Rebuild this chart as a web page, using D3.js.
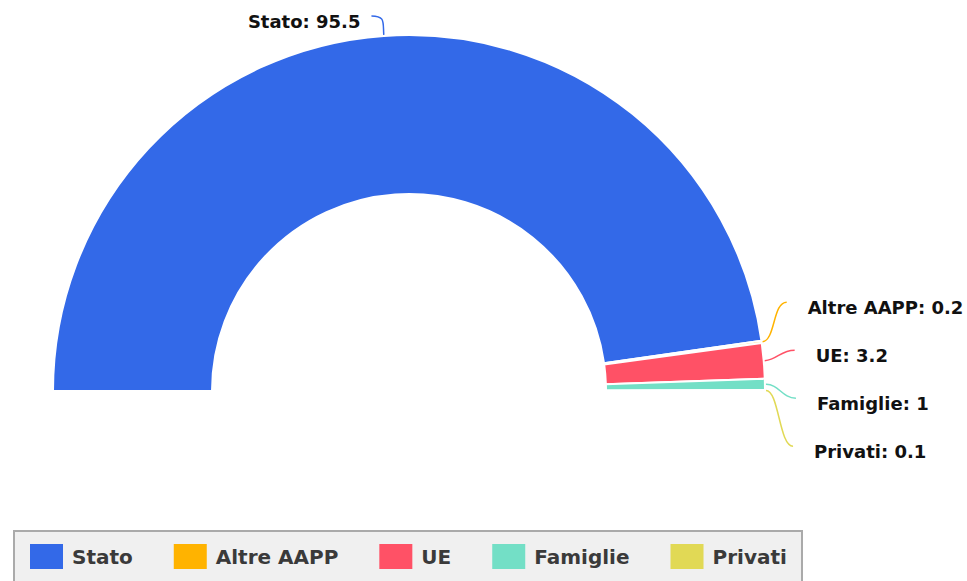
<!DOCTYPE html>
<html>
<head>
<meta charset="utf-8">
<script src="https://cdn.jsdelivr.net/npm/d3@7"></script>
<style>
  body { margin: 0; background: #fff; }
  svg { display: block; font-family: "DejaVu Sans", sans-serif; }
</style>
</head>
<body>
<div id="chart"></div>
<script>
// dati
const categories = ["Stato", "Altre AAPP", "UE", "Famiglie", "Privati"];
const values = [95.5, 0.2, 3.2, 1, 0.1];
const colors = ["#3369e8", "#ffb300", "#ff5166", "#73dfc6", "#e1d955"];

const width = 967, height = 581;
const cx = 409, cy = 391;
const outerR = 356, innerR = 197;

const svg = d3.select("#chart").append("svg")
    .attr("width", width)
    .attr("height", height);

const data = categories.map((c, i) => ({ name: c, value: values[i], color: colors[i] }));

const pie = d3.pie()
    .sort(null)
    .value(d => d.value)
    .startAngle(-Math.PI / 2)
    .endAngle(Math.PI / 2);

const arc = d3.arc().innerRadius(innerR).outerRadius(outerR);
const arcs = pie(data);

const g = svg.append("g").attr("transform", `translate(${cx},${cy})`);

g.selectAll("path.slice")
    .data(arcs)
    .enter()
    .append("path")
    .attr("class", "slice")
    .attr("d", arc)
    .attr("fill", d => d.data.color)
    .attr("stroke", "#fff")
    .attr("stroke-width", 2)
    .attr("stroke-linejoin", "round");

// etichette con linee di richiamo
const polar = (r, a) => [r * Math.sin(a), -r * Math.cos(a)];
const labelR = 376, curveR = 388;

const labels = arcs.map(d => {
    const mid = (d.startAngle + d.endAngle) / 2;
    const side = Math.sin(mid) >= 0 ? 1 : -1;
    const elbow = polar(labelR, mid);
    return { d, mid, side, anchor: polar(outerR + 1, mid), y: elbow[1] };
});

// allontana le etichette di destra che si sovrappongono
const gap = 48;
const right = labels.filter(l => l.side > 0 && Math.abs(l.y) < 200).sort((a, b) => a.y - b.y);
if (right.length > 1) {
    const mean = d3.mean(right, l => l.y) + 6;
    right.forEach((l, i) => { l.y = mean + (i - (right.length - 1) / 2) * gap; });
}

labels.forEach(l => {
    const radialX = Math.abs(Math.sin(l.mid)) * labelR + 11;
    const ellX = Math.sqrt(Math.max(0, curveR * curveR - l.y * l.y));
    l.x = l.side * Math.min(radialX, ellX);
});

const lg = g.append("g");

labels.forEach(l => {
    const [ax, ay] = l.anchor;
    const c1 = polar(outerR + 14, l.mid);
    const c2 = [l.x - l.side * 14, l.y];
    const path = d3.path();
    path.moveTo(ax, ay);
    path.bezierCurveTo(c1[0], c1[1], c2[0], c2[1], l.x, l.y);
    lg.append("path")
        .attr("d", path.toString())
        .attr("fill", "none")
        .attr("stroke", l.d.data.color)
        .attr("stroke-width", 1.5);

    lg.append("text")
        .attr("x", l.x + l.side * (l.side > 0 ? 21 : 11))
        .attr("y", l.y + 6)
        .attr("dy", "0.35em")
        .attr("text-anchor", l.side > 0 ? "start" : "end")
        .attr("font-size", 18)
        .attr("font-weight", "bold")
        .attr("fill", "#111")
        .text(`${l.d.data.name}: ${l.d.data.value}`);
});

// legenda
const legend = svg.append("g");
legend.append("rect")
    .attr("x", 14)
    .attr("y", 531)
    .attr("width", 788)
    .attr("height", 60)
    .attr("fill", "#f0f0f0")
    .attr("stroke", "#aaa")
    .attr("stroke-width", 2);

let lx = 30;
data.forEach(d => {
    const item = legend.append("g").attr("transform", `translate(${lx},0)`);
    item.append("rect")
        .attr("x", 0)
        .attr("y", 544)
        .attr("width", 33)
        .attr("height", 25)
        .attr("fill", d.color);
    const t = item.append("text")
        .attr("x", 42)
        .attr("y", 557)
        .attr("dy", "0.35em")
        .attr("font-size", 20)
        .attr("font-weight", "bold")
        .attr("fill", "#3a3a3a")
        .text(d.name);
    lx += 42 + t.node().getComputedTextLength() + 41;
});
</script>
</body>
</html>
